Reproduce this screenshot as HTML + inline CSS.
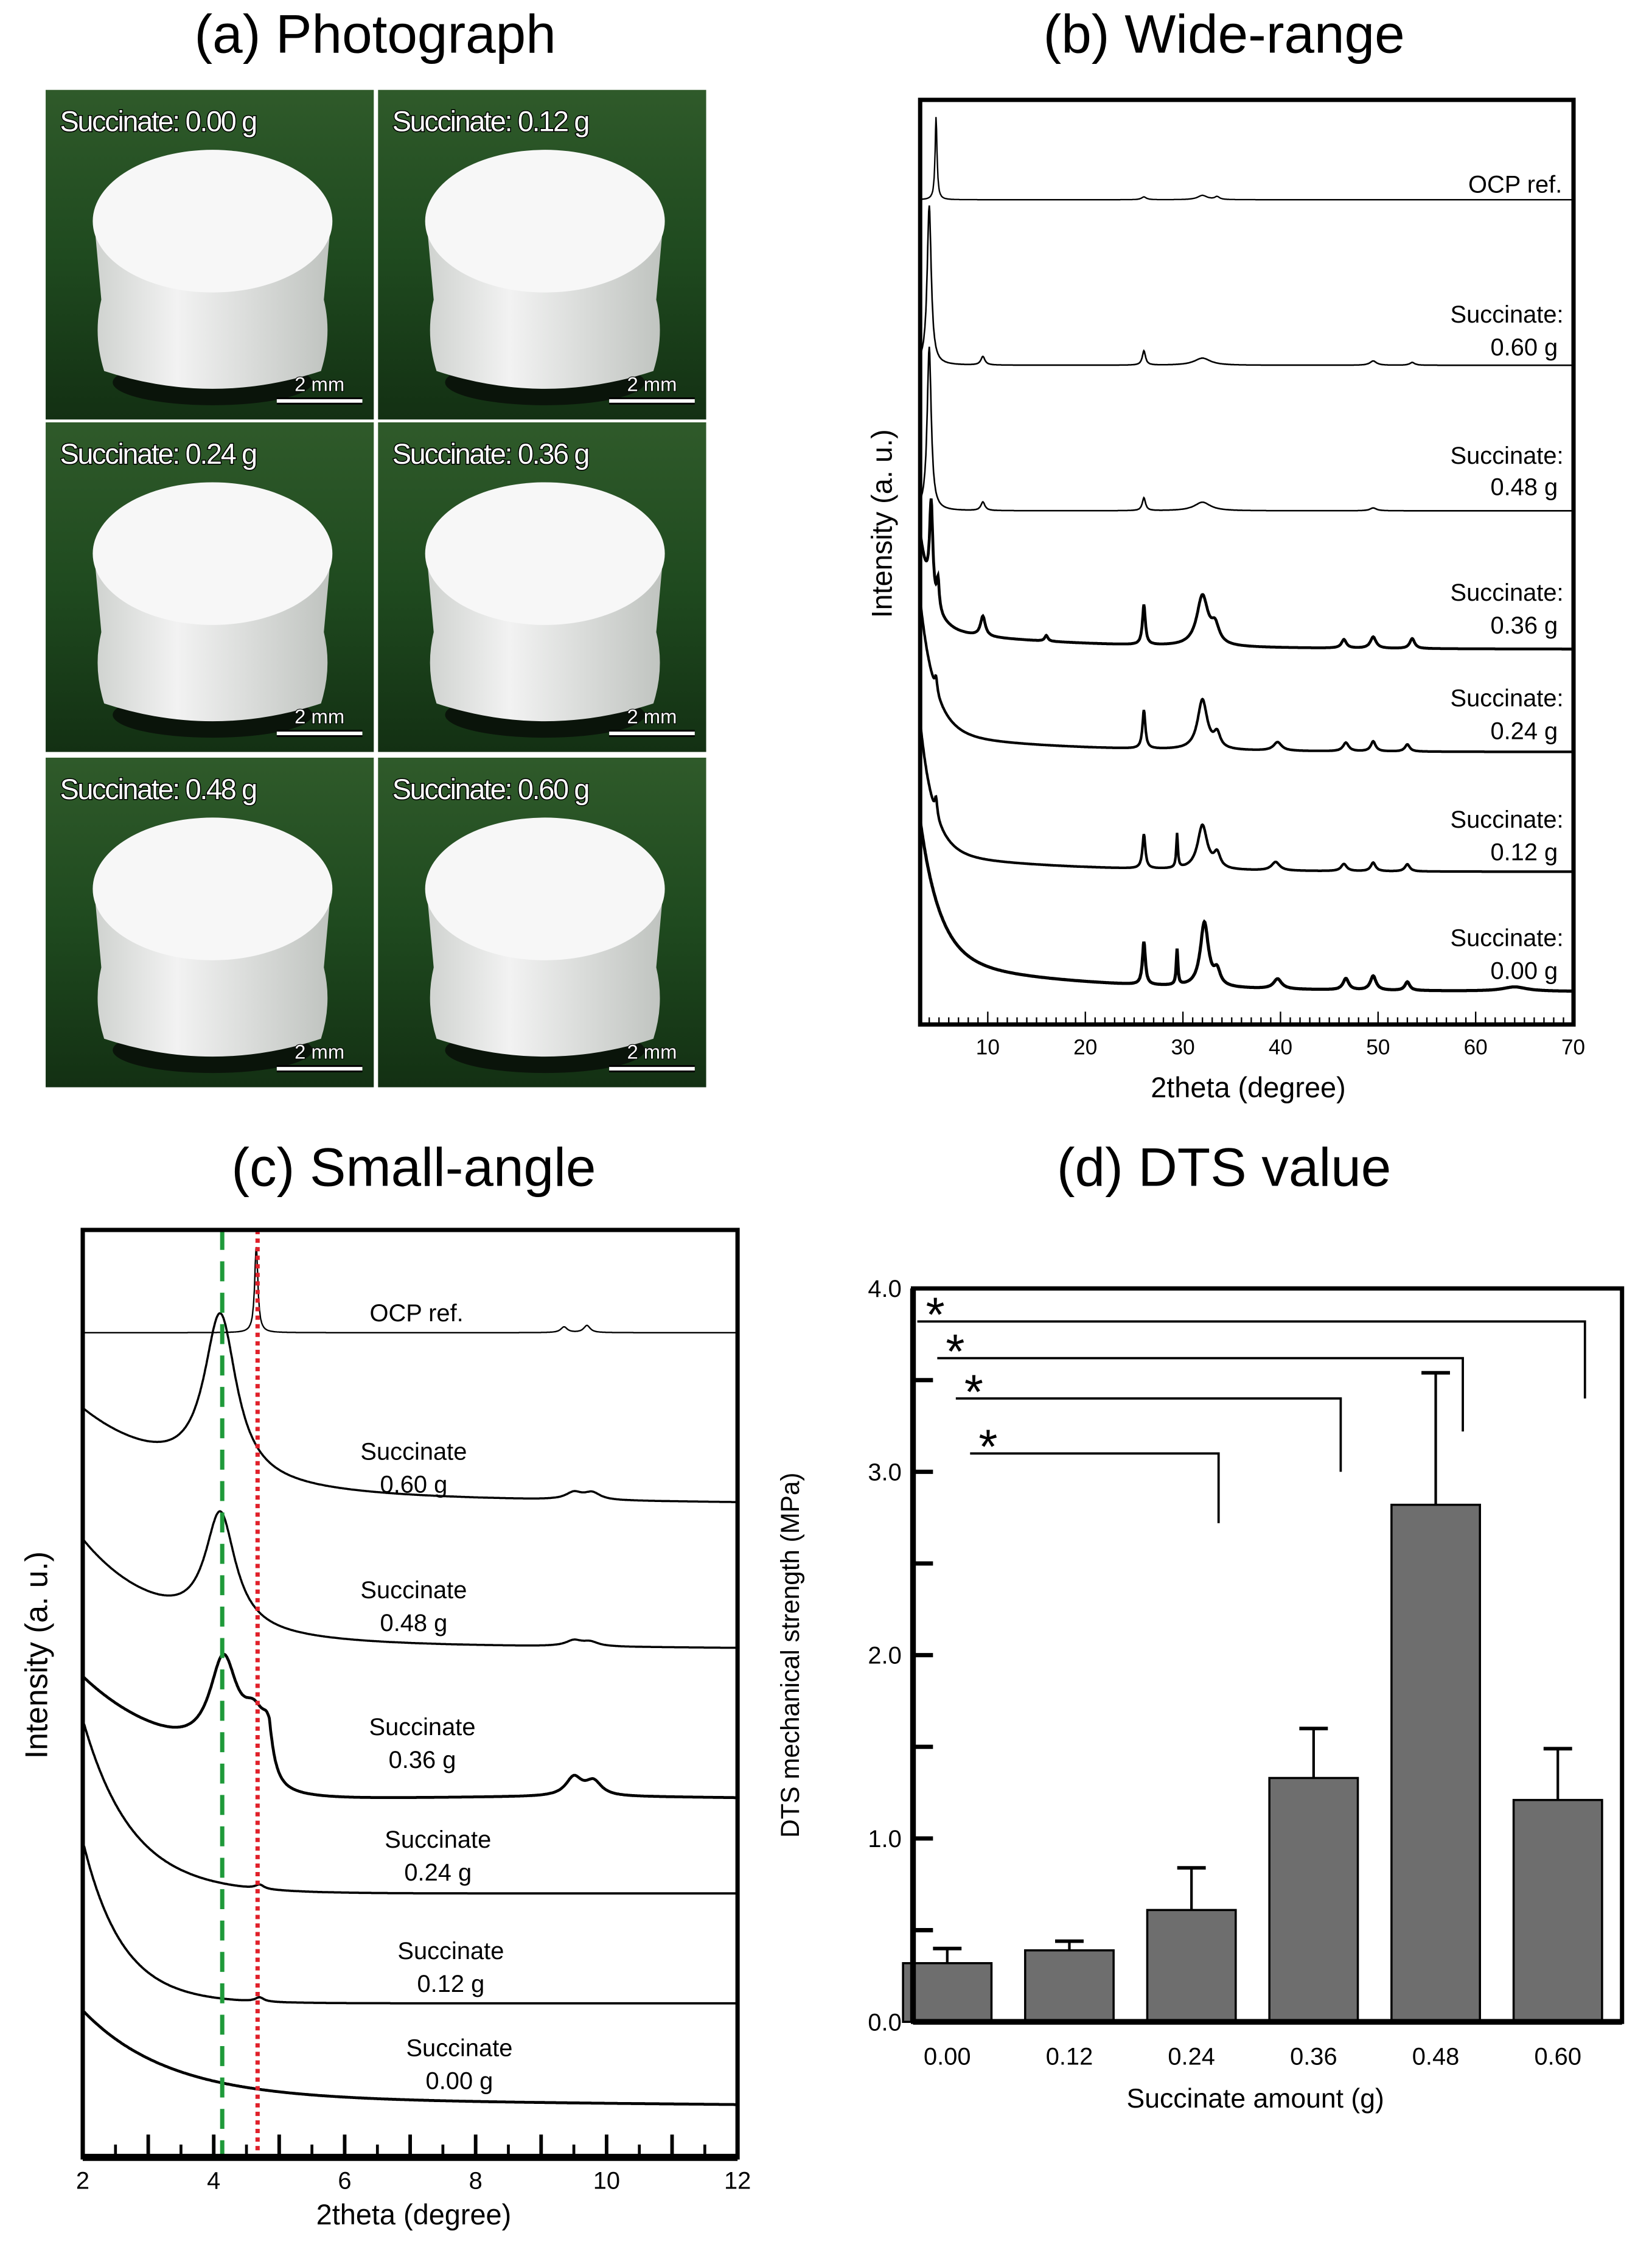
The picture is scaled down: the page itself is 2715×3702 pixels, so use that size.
<!DOCTYPE html>
<html><head><meta charset="utf-8"><style>
html,body{margin:0;padding:0;background:#fff;}
svg{display:block;font-family:"Liberation Sans",sans-serif;}
</style></head><body>
<svg id="fig" width="2715" height="3702" viewBox="0 0 1158 1579" xmlns="http://www.w3.org/2000/svg">
<rect width="1158" height="1579" fill="#fff"/>
<text x="263" y="37" font-size="38" text-anchor="middle">(a) Photograph</text>
<text x="858" y="37" font-size="38" text-anchor="middle">(b) Wide-range</text>
<text x="290" y="831" font-size="38" text-anchor="middle">(c) Small-angle</text>
<text x="858" y="831" font-size="38" text-anchor="middle">(d) DTS value</text>
<defs>
<linearGradient id="grass" x1="0" y1="0" x2="0" y2="1"><stop offset="0" stop-color="#2f5a2a"/><stop offset="0.5" stop-color="#1f4a1f"/><stop offset="1" stop-color="#133013"/></linearGradient>
<linearGradient id="body" x1="0" y1="0" x2="1" y2="0"><stop offset="0" stop-color="#cfd2cf"/><stop offset="0.35" stop-color="#f2f2f2"/><stop offset="1" stop-color="#bfc3bf"/></linearGradient>
</defs>
<g id="photos"></g>
<g id="pb"></g>
<g id="pc"></g>
<g id="pd"></g>
</svg>
<script>
// ---------- data ----------
const photoLabels = ["Succinate: 0.00 g","Succinate: 0.12 g","Succinate: 0.24 g","Succinate: 0.36 g","Succinate: 0.48 g","Succinate: 0.60 g"];
const wideNames = ["OCP ref.","0.60 g","0.48 g","0.36 g","0.24 g","0.12 g","0.00 g"];
const wideOffsets = [140,256,358,455,527,611,695];
const wideBgAmp = [0,0,0,70,97,96,100];
const wideBgTau = [1,1,1,1.2,1.5,1.4,2.0];
const wideBg2Amp = [0,0,0,14,14,14,24];
const wideBg2Tau = [1,1,1,14,12,12,14];
const widePeaks = [
 [[4.7,58,0.12],[26,2,0.3],[32,3,0.6],[33.5,2,0.3]],
 [[4.0,112,0.25],[9.5,6,0.25],[26,10,0.2],[32,5,1.0],[49.5,3,0.4],[53.5,2,0.3]],
 [[4.0,115,0.25],[9.5,6,0.25],[26,9,0.2],[32,6,1.0],[49.5,2,0.4]],
 [[4.2,66,0.2],[4.9,20,0.15],[9.5,14,0.3],[16,4,0.2],[26,28,0.18],[32,35,0.7],[33.3,12,0.5],[46.5,6,0.3],[49.5,8,0.35],[53.5,7,0.3]],
 [[4.7,10,0.15],[26,27,0.18],[32,35,0.6],[33.5,10,0.4],[39.7,6,0.5],[46.7,6,0.35],[49.5,7,0.3],[53,5,0.3]],
 [[4.7,12,0.15],[26,24,0.18],[29.4,24,0.1],[32,31,0.6],[33.5,10,0.4],[39.5,6,0.5],[46.5,5,0.35],[49.5,6,0.3],[53,5,0.3]],
 [[26,30,0.18],[29.4,25,0.1],[32.2,45,0.5],[33.5,10,0.4],[39.7,7,0.5],[46.7,8,0.35],[49.5,10,0.35],[53,6,0.3],[64,3,1.5]]
];
const wideWidth = [1,1.1,1.1,2,1.8,1.8,2.2];
const smallNames = ["OCP ref.","0.60 g","0.48 g","0.36 g","0.24 g","0.12 g","0.00 g"];
const smallOffsets = [934,1053,1155,1258,1327,1404,1475];
const smallBgAmp = [0,60,72,70,122,114,62];
const smallBgTau = [1,1.55,1.25,1.6,0.75,0.6,1.3];
const smallConst = [0,4,3,12,0,0,4];
const smallPeaks = [
 [[4.65,60,0.03],[9.35,4,0.06],[9.7,5,0.06]],
 [[4.1,114,0.3],[9.5,5,0.15],[9.78,5,0.15]],
 [[4.1,80,0.28],[9.5,4,0.15],[9.75,3,0.15]],
 [[4.15,66,0.26],[4.62,26,0.22],[4.82,14,0.1],[9.5,13,0.15],[9.8,10,0.15]],
 [[4.7,3,0.08]],
 [[4.7,3,0.08]],
 []
];
const smallWidth = [1,1.5,1.5,2,1.6,1.6,2];
const dtsCategories = ["0.00","0.12","0.24","0.36","0.48","0.60"];
const dtsValues = [0.32,0.39,0.61,1.33,2.82,1.21];
const dtsErrors = [0.08,0.05,0.23,0.27,0.72,0.28];
const dtsTicks = ["0.0","1.0","2.0","3.0","4.0"];
const sigBrackets = [[0,5,3.82,3.40],[0,4,3.62,3.22],[0,3,3.40,3.00],[0,2,3.10,2.72]];

const NS="http://www.w3.org/2000/svg";
function mk(parent,tag,attrs,text){const e=document.createElementNS(NS,tag);for(const k in attrs)e.setAttribute(k,attrs[k]);if(text!==undefined)e.textContent=text;parent.appendChild(e);return e;}
const lor=(x,p)=>p[1]/(1+((x-p[0])/p[2])**2);

const ph=document.getElementById('photos');
const cells=[[32,63],[265,63],[32,296],[265,296],[32,531],[265,531]];
cells.forEach((c,i)=>{
 const g=mk(ph,'g',{});
 
 
 const x=c[0],y=c[1],w=230,h=231;
 mk(g,'rect',{x:x,y:y,width:w,height:h,fill:'url(#grass)'});
 const cx=x+117,top=y+92;
 mk(g,'ellipse',{cx:cx,cy:y+205,rx:70,ry:16,fill:'#0a140a'});
 mk(g,'path',{d:`M${cx-83},${top} L${cx-78},${top+55} Q${cx-84},${top+80} ${cx-76},${top+105} Q${cx},${top+130} ${cx+76},${top+105} Q${cx+84},${top+80} ${cx+78},${top+55} L${cx+83},${top} Z`,fill:'url(#body)'});
 mk(g,'ellipse',{cx:cx,cy:top,rx:84,ry:50,fill:'#f7f7f7'});
 const t=mk(g,'text',{x:x+10,y:y+29,'font-size':20,fill:'#fff',stroke:'#000','stroke-width':1.3,'paint-order':'stroke','letter-spacing':'-1'},photoLabels[i]);
 
 
 mk(g,'line',{x1:x+162,y1:y+218,x2:x+222,y2:y+218,stroke:'#000','stroke-width':5});
 mk(g,'line',{x1:x+162,y1:y+218,x2:x+222,y2:y+218,stroke:'#fff','stroke-width':2.5});
 const s=mk(g,'text',{x:x+192,y:y+211,'font-size':14,'text-anchor':'middle',fill:'#fff',stroke:'#000','stroke-width':1,'paint-order':'stroke'},'2 mm');
 
 
});

const pb=document.getElementById('pb');
const xb=v=>624+v*6.84;
(function(){
 const L=645,R=1103,T=70,B=718;
 for(let i=0;i<wideNames.length;i++){
  let d='';
  for(let v=3.05;v<=70;v+=0.05){
   let I=wideBgAmp[i]*Math.exp(-(v-3)/wideBgTau[i])+wideBg2Amp[i]*Math.exp(-(v-3)/wideBg2Tau[i]);
   widePeaks[i].forEach(p=>I+=lor(v,p));
   d+=(d?'L':'M')+xb(v).toFixed(1)+','+(wideOffsets[i]-I).toFixed(1);
  }
  const p=mk(pb,'path',{d:d,fill:'none',stroke:'#000','stroke-width':wideWidth[i]});
  
  
 }
 mk(pb,'rect',{x:L,y:T,width:R-L,height:B-T,fill:'none',stroke:'#000','stroke-width':3});
 for(let v=4;v<=70;v++){const X=xb(v);mk(pb,'line',{x1:X,y1:B,x2:X,y2:B-(v%10==0?9:5),stroke:'#000','stroke-width':1});}
 for(let v=10;v<=70;v+=10){const t=mk(pb,'text',{x:xb(v),y:739,'font-size':15,'text-anchor':'middle'},String(v));}
 const xl=mk(pb,'text',{x:875,y:769,'font-size':20,'text-anchor':'middle'},'2theta (degree)');
 
 const yl=mk(pb,'text',{x:0,y:0,'font-size':20,'text-anchor':'middle',transform:'translate(625,367) rotate(-90)'},'Intensity (a. u.)');
 
 const ly=[[135],[226,249],[325,347],[421,444],[495,518],[580,603],[663,686]];
 ly.forEach((a,i)=>{
  if(i==0){const t=mk(pb,'text',{x:1095,y:a[0],'font-size':17,'text-anchor':'end'},wideNames[0]);}
  else{const t=mk(pb,'text',{x:1096,y:a[0],'font-size':17,'text-anchor':'end'},'Succinate:');
   const u=mk(pb,'text',{x:1092,y:a[1],'font-size':17,'text-anchor':'end'},wideNames[i]);}
 });
})();

const pc=document.getElementById('pc');
const xc=v=>58+(v-2)*45.9;
(function(){
 const L=58,R=517,T=862,B=1512;
 for(let i=0;i<smallNames.length;i++){
  let d='';
  const step=i==0?0.005:0.01;
  for(let v=2.02;v<=12;v+=step){
   let I=smallBgAmp[i]*Math.exp(-(v-2)/smallBgTau[i])+smallConst[i]*(12-v)/10;
   smallPeaks[i].forEach(p=>I+=lor(v,p));
   if(i==3&&v>4.85)I-=24*(1-Math.exp(-(v-4.85)/0.08))*Math.exp(-(v-4.85)/3);
   d+=(d?'L':'M')+xc(v).toFixed(1)+','+(smallOffsets[i]-I).toFixed(1);
  }
  const p=mk(pc,'path',{d:d,fill:'none',stroke:'#000','stroke-width':smallWidth[i]});
  
  
 }
 const g1=mk(pc,'line',{x1:xc(4.13),y1:T,x2:xc(4.13),y2:B,stroke:'#1f9a3a','stroke-width':3,'stroke-dasharray':'14,8'});
 
 const r1=mk(pc,'line',{x1:xc(4.67),y1:T,x2:xc(4.67),y2:B,stroke:'#e0202a','stroke-width':3,'stroke-dasharray':'3,3'});
 
 mk(pc,'rect',{x:L,y:T,width:R-L,height:B-T,fill:'none',stroke:'#000','stroke-width':3});
 mk(pc,'line',{x1:L,y1:B,x2:R,y2:B,stroke:'#000','stroke-width':5});
 for(let v=2.5;v<12;v+=0.5){const X=xc(v);const maj=Math.abs(v-Math.round(v))<0.01;mk(pc,'line',{x1:X,y1:B,x2:X,y2:B-(maj?16:9),stroke:'#000','stroke-width':maj?2.5:2});}
 for(let v=2;v<=12;v+=2){const t=mk(pc,'text',{x:xc(v),y:1534,'font-size':17,'text-anchor':'middle'},String(v));}
 const xl=mk(pc,'text',{x:290,y:1559,'font-size':20,'text-anchor':'middle'},'2theta (degree)');
 
 const yl=mk(pc,'text',{x:0,y:0,'font-size':22,'text-anchor':'middle',transform:'translate(33,1160) rotate(-90)'},'Intensity (a. u.)');
 
 const lp=[[292,926],[290,1023,1046],[290,1120,1143],[296,1216,1239],[307,1295,1318],[316,1373,1396],[322,1441,1464]];
 lp.forEach((a,i)=>{
  if(i==0){const t=mk(pc,'text',{x:a[0],y:a[1],'font-size':17,'text-anchor':'middle'},smallNames[0]);}
  else{const t=mk(pc,'text',{x:a[0],y:a[1],'font-size':17,'text-anchor':'middle'},'Succinate');
   const u=mk(pc,'text',{x:a[0],y:a[2],'font-size':17,'text-anchor':'middle'},smallNames[i]);}
 });
})();

const pd=document.getElementById('pd');
const yd=v=>1417-v*128.5;
const xd=i=>664+i*85.6;
(function(){
 const L=640,R=1137,T=903,B=1417,bw=62;
 dtsValues.forEach((v,i)=>{
  const X=xd(i);
  const e=mk(pd,'line',{x1:X,y1:yd(v),x2:X,y2:yd(v+dtsErrors[i]),stroke:'#000','stroke-width':1.8});
  
  mk(pd,'line',{x1:X-10,y1:yd(v+dtsErrors[i]),x2:X+10,y2:yd(v+dtsErrors[i]),stroke:'#000','stroke-width':2.5});
  const r=mk(pd,'rect',{x:X-bw/2,y:yd(v),width:bw,height:yd(0)-yd(v),fill:'#6e6e6e',stroke:'#000','stroke-width':1.5});
  
  const t=mk(pd,'text',{x:X,y:1447,'font-size':17,'text-anchor':'middle'},dtsCategories[i]);
  
 });
 const starX=[643,657,670,680];
 sigBrackets.forEach((s,k)=>{
  const x1=starX[k],x2=xd(s[1])+19;
  const p=mk(pd,'path',{d:`M${x1},${yd(s[2])} L${x2},${yd(s[2])} L${x2},${yd(s[3])}`,fill:'none',stroke:'#000','stroke-width':1.6});
  
  const t=mk(pd,'text',{x:x1+6,y:yd(s[2])+7,'font-size':34},'*');
  
 });
 mk(pd,'rect',{x:L,y:T,width:R-L,height:B-T,fill:'none',stroke:'#000','stroke-width':3});
 mk(pd,'line',{x1:L,y1:B,x2:R,y2:B,stroke:'#000','stroke-width':4});
 mk(pd,'line',{x1:L,y1:T,x2:L,y2:B,stroke:'#000','stroke-width':4});
 for(let v=0.5;v<4;v+=0.5){mk(pd,'line',{x1:L,y1:yd(v),x2:L+14,y2:yd(v),stroke:'#000','stroke-width':3});}
 dtsTicks.forEach((s,k)=>{const t=mk(pd,'text',{x:632,y:yd(k)+6,'font-size':17,'text-anchor':'end'},s);});
 const xl=mk(pd,'text',{x:880,y:1477,'font-size':19,'text-anchor':'middle'},'Succinate amount (g)');
 
 const yl=mk(pd,'text',{x:0,y:0,'font-size':18,'text-anchor':'middle',transform:'translate(560,1160) rotate(-90)'},'DTS mechanical strength (MPa)');
 
})();
</script>
</body></html>
